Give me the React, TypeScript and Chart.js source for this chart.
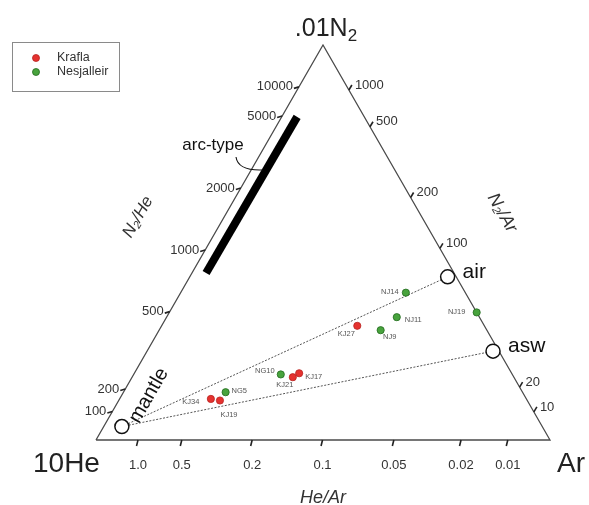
import React, { useEffect, useRef } from 'react';
import { Chart, registerables } from 'chart.js';

Chart.register(...registerables);

// Ternary compositions (%) of the plotted components: 10He, Ar, .01N2
const kraflaNames = ['KJ34', 'KJ19', 'KJ21', 'KJ17', 'KJ27'];
const kraflaHe = [69.5, 67.7, 48.7, 46.8, 28.0];
const kraflaAr = [20.1, 22.3, 35.4, 36.3, 43.1];
const kraflaN2 = [10.4, 10.0, 15.9, 16.9, 28.9];

const nesjNames = ['NG5', 'NG10', 'NJ9', 'NJ11', 'NJ14', 'NJ19'];
const nesjHe = [65.4, 51.0, 23.4, 18.2, 13.1, 0.0];
const nesjAr = [22.5, 32.4, 48.8, 50.7, 49.6, 67.7];
const nesjN2 = [12.1, 16.6, 27.8, 31.1, 37.3, 32.3];

const endNames = ['mantle', 'air', 'asw'];
const endHe = [92.6, 1.9, 1.3];
const endAr = [4.0, 56.8, 76.2];
const endN2 = [3.4, 41.3, 22.5];

// arc-type field (two ends of the bar)
const arcHe = [54.6, 14.8];
const arcAr = [3.1, 3.4];
const arcN2 = [42.3, 81.8];

// Axis ticks: ratio labels and the % .01N2 (or % Ar) at which they sit on each edge
const n2HeTicks = ['100', '200', '500', '1000', '2000', '5000', '10000'];
const n2HeTickN2 = [7.2, 12.9, 32.5, 48.1, 63.8, 82.0, 89.4];
const n2ArTicks = ['10', '20', '100', '200', '500', '1000'];
const n2ArTickN2 = [7.1, 13.4, 48.5, 61.4, 79.3, 88.6];
const heArTicks = ['1.0', '0.5', '0.2', '0.1', '0.05', '0.02', '0.01'];
const heArTickAr = [9.25, 18.9, 34.4, 49.9, 65.6, 80.4, 90.7];

const seriesNames = ['Krafla', 'Nesjalleir'];

const RED = '#e5322f';
const RED_B = '#b82220';
const GREEN = '#48a33d';
const GREEN_B = '#236b1f';
const FONT = 'Arial, "Liberation Sans", sans-serif';

function toXY(he: number, ar: number, n2: number) {
  const s = he + ar + n2;
  const b = ar / s;
  const c = n2 / s;
  return { x: b + c / 2, y: c };
}

const labelOffsets: Record<string, [number, number, string]> = {
  KJ34: [-20, 3, 'center'],
  KJ19: [9, 14, 'center'],
  NG5: [6, -1.5, 'left'],
  NG10: [-16, -3, 'center'],
  KJ21: [-8, 8, 'center'],
  KJ17: [6, 4, 'left'],
  KJ27: [-11, 8.5, 'center'],
  NJ9: [9, 7, 'center'],
  NJ11: [8, 2.5, 'left'],
  NJ14: [-16, -1, 'center'],
  NJ19: [-20, 0, 'center'],
};

type Part = { t: string; font: string; dy?: number };

function drawRich(ctx: CanvasRenderingContext2D, parts: Part[], x: number, y: number, align: 'left' | 'center') {
  let w = 0;
  for (const p of parts) {
    ctx.font = p.font;
    w += ctx.measureText(p.t).width;
  }
  let cx = align === 'center' ? x - w / 2 : x;
  ctx.textAlign = 'left';
  for (const p of parts) {
    ctx.font = p.font;
    ctx.fillText(p.t, cx, y + (p.dy || 0));
    cx += ctx.measureText(p.t).width;
  }
}

const ternaryPlugin = {
  id: 'ternaryDecor',
  afterDatasetsDraw(chart: any) {
    const ctx: CanvasRenderingContext2D = chart.ctx;
    const xs = chart.scales.x;
    const ys = chart.scales.y;
    const pix = (he: number, ar: number, n2: number) => {
      const p = toXY(he, ar, n2);
      return [xs.getPixelForValue(p.x), ys.getPixelForValue(p.y)];
    };
    ctx.save();
    ctx.strokeStyle = '#222';
    ctx.fillStyle = '#333';
    ctx.lineWidth = 1.6;

    // left edge ticks (N2/He)
    ctx.font = `13px ${FONT}`;
    ctx.textBaseline = 'middle';
    n2HeTicks.forEach((lab, i) => {
      const c = n2HeTickN2[i];
      const [x, y] = pix(100 - c, 0, c);
      ctx.beginPath();
      ctx.moveTo(x, y);
      ctx.lineTo(x - 5, y + 1.5);
      ctx.stroke();
      ctx.textAlign = 'right';
      ctx.fillText(lab, x - 6, y);
    });
    // right edge ticks (N2/Ar)
    n2ArTicks.forEach((lab, i) => {
      const c = n2ArTickN2[i];
      const [x, y] = pix(0, 100 - c, c);
      ctx.beginPath();
      ctx.moveTo(x, y);
      ctx.lineTo(x + 3, y - 5);
      ctx.stroke();
      ctx.textAlign = 'left';
      ctx.fillText(lab, x + 6, y - 5);
    });
    // bottom ticks (He/Ar)
    ctx.textAlign = 'center';
    heArTicks.forEach((lab, i) => {
      const b = heArTickAr[i];
      const [x, y] = pix(100 - b, b, 0);
      ctx.beginPath();
      ctx.moveTo(x, y);
      ctx.lineTo(x - 1.5, y + 6);
      ctx.stroke();
      ctx.fillText(lab, x, 465);
    });

    // vertex labels
    ctx.fillStyle = '#222';
    ctx.textBaseline = 'alphabetic';
    const [tx] = pix(0, 0, 100);
    drawRich(ctx, [
      { t: '.01N', font: `25px ${FONT}` },
      { t: '2', font: `17px ${FONT}`, dy: 5 },
    ], tx + 3, 36, 'center');
    ctx.font = `28px ${FONT}`;
    ctx.textAlign = 'left';
    ctx.fillText('10He', 33, 472);
    ctx.fillText('Ar', 557, 472);

    // axis titles
    ctx.fillStyle = '#333';
    drawRich(ctx, [{ t: 'He/Ar', font: `italic 18px ${FONT}` }], 323, 503, 'center');
    ctx.save();
    ctx.translate(138, 217);
    ctx.rotate(-Math.PI / 3);
    ctx.textBaseline = 'middle';
    drawRich(ctx, [
      { t: 'N', font: `italic 17px ${FONT}` },
      { t: '2', font: `italic 11px ${FONT}`, dy: 4 },
      { t: '/He', font: `italic 17px ${FONT}` },
    ], 0, 0, 'center');
    ctx.restore();
    ctx.save();
    ctx.translate(502, 213);
    ctx.rotate(Math.PI / 3);
    ctx.textBaseline = 'middle';
    drawRich(ctx, [
      { t: 'N', font: `italic 18px ${FONT}` },
      { t: '2', font: `italic 11px ${FONT}`, dy: 4 },
      { t: '/Ar', font: `italic 18px ${FONT}` },
    ], 0, 0, 'center');
    ctx.restore();

    // endmember labels
    ctx.fillStyle = '#111';
    ctx.textBaseline = 'alphabetic';
    const endMeta = chart.getDatasetMeta(2);
    const air = endMeta.data[1];
    const asw = endMeta.data[2];
    const mantle = endMeta.data[0];
    ctx.font = `21px ${FONT}`;
    ctx.textAlign = 'left';
    ctx.fillText(endNames[1], air.x + 15, air.y + 1);
    ctx.fillText(endNames[2], asw.x + 15, asw.y + 1);
    ctx.save();
    ctx.translate(mantle.x + 27, mantle.y - 31);
    ctx.rotate(-Math.PI / 3);
    ctx.textAlign = 'center';
    ctx.textBaseline = 'middle';
    ctx.font = `20px ${FONT}`;
    ctx.fillText(endNames[0], 0, 0);
    ctx.restore();

    // arc-type label and leader
    ctx.font = `17px ${FONT}`;
    ctx.textAlign = 'center';
    ctx.textBaseline = 'middle';
    ctx.fillText('arc-type', 213, 145);
    const arcMeta = chart.getDatasetMeta(3);
    const a0 = arcMeta.data[0];
    const a1 = arcMeta.data[1];
    const tx2 = a0.x + (a1.x - a0.x) * 0.66 - 3;
    const ty2 = a0.y + (a1.y - a0.y) * 0.66;
    ctx.lineWidth = 1.1;
    ctx.strokeStyle = '#111';
    ctx.beginPath();
    ctx.moveTo(236, 157);
    ctx.quadraticCurveTo(238, 171, tx2, ty2);
    ctx.stroke();

    // point labels
    ctx.font = `7.5px ${FONT}`;
    ctx.fillStyle = '#555';
    ctx.textBaseline = 'middle';
    [[0, kraflaNames], [1, nesjNames]].forEach(([di, names]: any) => {
      const meta = chart.getDatasetMeta(di);
      meta.data.forEach((el: any, j: number) => {
        const o = labelOffsets[names[j]];
        ctx.textAlign = o[2] as CanvasTextAlign;
        ctx.fillText(names[j], el.x + o[0], el.y + o[1]);
      });
    });

    // legend
    ctx.lineWidth = 1;
    ctx.strokeStyle = '#8a8a8a';
    ctx.strokeRect(12.5, 42.5, 107, 49);
    const cols = [[RED, RED_B], [GREEN, GREEN_B]];
    seriesNames.forEach((n, i) => {
      const y = 58 + i * 14;
      ctx.beginPath();
      ctx.arc(36, y, 3.5, 0, Math.PI * 2);
      ctx.fillStyle = cols[i][0];
      ctx.fill();
      ctx.lineWidth = 0.8;
      ctx.strokeStyle = cols[i][1];
      ctx.stroke();
      ctx.fillStyle = '#333';
      ctx.font = `12.5px ${FONT}`;
      ctx.textAlign = 'left';
      ctx.textBaseline = 'middle';
      ctx.fillText(n, 57, y);
    });
    ctx.restore();
  },
};

export default function App() {
  const ref = useRef<HTMLCanvasElement | null>(null);
  useEffect(() => {
    if (!ref.current) return;
    const krafla = kraflaHe.map((h, i) => toXY(h, kraflaAr[i], kraflaN2[i]));
    const nesj = nesjHe.map((h, i) => toXY(h, nesjAr[i], nesjN2[i]));
    const ends = endHe.map((h, i) => toXY(h, endAr[i], endN2[i]));
    const arc = arcHe.map((h, i) => toXY(h, arcAr[i], arcN2[i]));
    const tri = [toXY(100, 0, 0), toXY(0, 100, 0), toXY(0, 0, 100), toXY(100, 0, 0)];
    const chart = new Chart(ref.current, {
      type: 'scatter',
      data: {
        datasets: [
          {
            label: seriesNames[0], data: krafla, order: 1, clip: false,
            pointRadius: 3.6, pointBackgroundColor: RED, pointBorderColor: RED_B, pointBorderWidth: 0.8,
          },
          {
            label: seriesNames[1], data: nesj, order: 1, clip: false,
            pointRadius: 3.6, pointBackgroundColor: GREEN, pointBorderColor: GREEN_B, pointBorderWidth: 0.8,
          },
          {
            label: 'endmembers', data: ends, order: 0, clip: false,
            pointRadius: 7, pointBackgroundColor: '#ffffff', pointBorderColor: '#111', pointBorderWidth: 1.5,
          },
          {
            label: 'arc-type', data: arc, order: 3, clip: false, showLine: true,
            borderColor: '#000', borderWidth: 8, borderCapStyle: 'butt', pointRadius: 0,
          },
          {
            label: 'mantle-air', data: [ends[0], ends[1]], order: 4, clip: false, showLine: true,
            borderColor: '#555', borderWidth: 1, borderDash: [2, 1.5], pointRadius: 0,
          },
          {
            label: 'mantle-asw', data: [ends[0], ends[2]], order: 4, clip: false, showLine: true,
            borderColor: '#555', borderWidth: 1, borderDash: [2, 1.5], pointRadius: 0,
          },
          {
            label: 'frame', data: tri, order: 5, clip: false, showLine: true,
            borderColor: '#4a4a4a', borderWidth: 1.3, pointRadius: 0, borderJoinStyle: 'miter',
          },
        ] as any,
      },
      options: {
        animation: false,
        responsive: false,
        devicePixelRatio: 1,
        layout: { padding: { left: 96, right: 39, top: 45, bottom: 65 } },
        scales: {
          x: { type: 'linear', min: 0, max: 1, display: false },
          y: { type: 'linear', min: 0, max: 1, display: false },
        },
        plugins: {
          legend: { display: false },
          tooltip: { enabled: false },
        },
        events: [],
      },
      plugins: [ternaryPlugin],
    });
    return () => chart.destroy();
  }, []);
  return (
    <div style={{ position: 'fixed', left: 0, top: 0, width: 589, height: 505, background: '#fff' }}>
      <canvas ref={ref} width={589} height={505} style={{ display: 'block' }} />
    </div>
  );
}
